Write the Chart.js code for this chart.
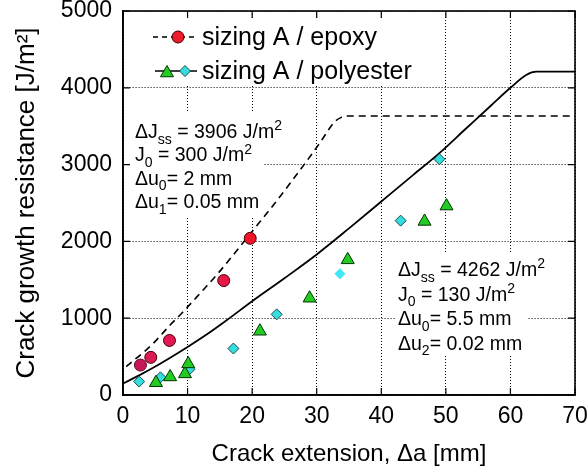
<!DOCTYPE html>
<html><head><meta charset="utf-8">
<script src="https://cdn.jsdelivr.net/npm/chart.js@4"></script>
<style>html,body{margin:0;padding:0;background:#fff;}canvas{display:block;}</style>
</head><body>
<canvas id="c" width="588" height="473"></canvas>
<script>
// ---- data ----
const epoxyModelX = [0.5, 1.1, 3.0, 4.7, 6.1, 7.3, 9.1, 12.0, 14.8, 18.0, 20.0, 23.3, 26.0, 28.2, 30.5, 32.8, 33.8, 34.6, 70];
const epoxyModelY = [370, 413, 543, 673, 800, 911, 1064, 1330, 1592, 1920, 2130, 2474, 2770, 3017, 3285, 3559, 3615, 3633, 3633];
const polyModelX = [0, 2.5, 5, 7.5, 10, 13, 16, 20, 25, 30, 35, 40, 45, 49, 53, 57, 60, 62.5, 64, 70];
const polyModelY = [150, 255, 370, 495, 625, 790, 970, 1220, 1520, 1830, 2170, 2520, 2870, 3150, 3460, 3770, 4000, 4170, 4210, 4210];
const epoxyX = [2.7, 4.3, 7.2, 15.6, 19.7];
const epoxyY = [390, 490, 710, 1490, 2040];
const polyTriX = [5.1, 7.3, 9.6, 10.1, 21.2, 28.9, 34.8, 46.7, 50.1];
const polyTriY = [160, 235, 275, 405, 830, 1260, 1760, 2260, 2460];
const polyDiaX = [2.5, 5.8, 10.3, 17.1, 23.8, 33.6, 43.0, 49.0];
const polyDiaY = [175, 230, 335, 605, 1050, 1580, 2270, 3070];
const xTicks = [0, 10, 20, 30, 40, 50, 60, 70];
const yTicks = [0, 1000, 2000, 3000, 4000, 5000];
const legendLabels = ['sizing A / epoxy', 'sizing A / polyester'];
const xTitle = 'Crack extension, \u0394a [mm]';
const yTitle = 'Crack growth resistance [J/m\u00B2]';
const noteEpoxy = [
  [{t:'\u0394J'},{t:'ss',sub:1},{t:' = 3906 J/m'},{t:'2',sup:1}],
  [{t:'J'},{t:'0',sub:1},{t:' = 300 J/m'},{t:'2',sup:1}],
  [{t:'\u0394u'},{t:'0',sub:1},{t:'= 2 mm'}],
  [{t:'\u0394u'},{t:'1',sub:1},{t:'= 0.05 mm'}]
];
const notePoly = [
  [{t:'\u0394J'},{t:'ss',sub:1},{t:' = 4262 J/m'},{t:'2',sup:1}],
  [{t:'J'},{t:'0',sub:1},{t:' = 130 J/m'},{t:'2',sup:1}],
  [{t:'\u0394u'},{t:'0',sub:1},{t:'= 5.5 mm'}],
  [{t:'\u0394u'},{t:'2',sub:1},{t:'= 0.02 mm'}]
];

const FONT = '"Liberation Sans", Arial, Helvetica, sans-serif';
const pts = (xs, ys) => xs.map((v, i) => ({x: v, y: ys[i]}));

function drawRich(ctx, x, y, parts, size) {
  let cx = x;
  ctx.textBaseline = 'alphabetic';
  ctx.textAlign = 'left';
  ctx.fillStyle = '#000';
  parts.forEach(p => {
    let fs = size, dy = 0;
    if (p.sub) { fs = size * 0.72; dy = size * 0.3; }
    if (p.sup) { fs = size * 0.72; dy = -size * 0.4; }
    ctx.font = fs + 'px ' + FONT;
    ctx.fillText(p.t, cx, y + dy);
    cx += ctx.measureText(p.t).width;
  });
}

function marker(ctx, style, x, y, r, fill, stroke) {
  ctx.save();
  ctx.fillStyle = fill; ctx.strokeStyle = stroke; ctx.lineWidth = 1;
  ctx.beginPath();
  if (style === 'circle') ctx.arc(x, y, r, 0, Math.PI * 2);
  else if (style === 'triangle') {
    for (let k = 0; k < 3; k++) {
      const a = k * 2 * Math.PI / 3;
      const px = x + Math.sin(a) * r, py = y - Math.cos(a) * r;
      k ? ctx.lineTo(px, py) : ctx.moveTo(px, py);
    }
    ctx.closePath();
  } else {
    ctx.moveTo(x, y - r); ctx.lineTo(x + r, y); ctx.lineTo(x, y + r); ctx.lineTo(x - r, y); ctx.closePath();
  }
  ctx.fill(); ctx.stroke();
  ctx.restore();
}

const decor = {
  id: 'decor',
  beforeDatasetsDraw(chart) {
    const {ctx, chartArea: a} = chart;
    ctx.save();
    ctx.fillStyle = '#fff';
    // legend box
    ctx.fillRect(a.left + 1, a.top + 7, 302, 68);
    // note boxes
    ctx.fillRect(a.left + 1, a.top + 102, 140, 105);
    ctx.fillRect(a.left + 273, a.top + 241, 131, 102);
    // legend
    ctx.strokeStyle = '#000'; ctx.lineWidth = 1.3;
    ctx.setLineDash([5, 4]);
    ctx.beginPath(); ctx.moveTo(a.left + 30, a.top + 26); ctx.lineTo(a.left + 74, a.top + 26); ctx.stroke();
    ctx.setLineDash([]);
    ctx.beginPath(); ctx.moveTo(a.left + 32, a.top + 60); ctx.lineTo(a.left + 74, a.top + 60); ctx.stroke();
    marker(ctx, 'circle', a.left + 55, a.top + 26, 6, '#ee1c2a', '#300');
    marker(ctx, 'triangle', a.left + 44, a.top + 62, 7.5, '#22cc22', '#003300');
    marker(ctx, 'diamond', a.left + 62, a.top + 60, 5.5, '#33dde0', '#1a4a4a');
    ctx.fillStyle = '#000';
    ctx.font = '25px ' + FONT;
    ctx.textBaseline = 'middle'; ctx.textAlign = 'left';
    ctx.fillText(legendLabels[0], a.left + 79, a.top + 27);
    ctx.fillText(legendLabels[1], a.left + 79, a.top + 61);
    // notes
    noteEpoxy.forEach((ln, i) => drawRich(ctx, a.left + 12, a.top + 127 + i * 23.3, ln, 19.5));
    notePoly.forEach((ln, i) => drawRich(ctx, a.left + 275, a.top + 265 + i * 24.5, ln, 19.5));
    ctx.restore();
  },
  afterDraw(chart) {
    const {ctx, chartArea: a, scales: {x, y}} = chart;
    ctx.save();
    ctx.strokeStyle = '#000';
    ctx.lineWidth = 1.2;
    const L = 7;
    ctx.beginPath();
    x.ticks.forEach(t => {
      const px = x.getPixelForValue(t.value);
      ctx.moveTo(px, a.bottom); ctx.lineTo(px, a.bottom - L);
      ctx.moveTo(px, a.top); ctx.lineTo(px, a.top + L);
    });
    y.ticks.forEach(t => {
      const py = y.getPixelForValue(t.value);
      ctx.moveTo(a.left, py); ctx.lineTo(a.left + L, py);
      ctx.moveTo(a.right, py); ctx.lineTo(a.right - L, py);
    });
    ctx.stroke();
    ctx.lineWidth = 1.6;
    ctx.strokeRect(a.left, a.top, a.right - a.left, a.bottom - a.top);
    ctx.restore();
  }
};

Chart.defaults.font.family = FONT;
Chart.defaults.color = '#000';

new Chart(document.getElementById('c'), {
  type: 'scatter',
  data: {
    datasets: [
      { label: legendLabels[0], data: pts(epoxyX, epoxyY), order: 1,
        pointStyle: 'circle', pointRadius: 6, pointBorderWidth: 1,
        pointBackgroundColor: ['#c4185a', '#dc1a55', '#e41852', '#e8174a', '#f01428'],
        pointBorderColor: ['#5a0a20', '#400', '#400', '#400', '#400'] },
      { label: 'triangles', data: pts(polyTriX, polyTriY), order: 2,
        pointStyle: 'triangle', pointRadius: 7.5, pointBorderWidth: 1,
        pointBackgroundColor: '#22cc22', pointBorderColor: '#003300' },
      { label: 'diamonds', data: pts(polyDiaX, polyDiaY), order: 3,
        pointStyle: 'rectRot', pointRadius: 5.5,
        pointBorderWidth: [1, 1, 1, 1, 1, 0, 1, 1],
        pointBackgroundColor: ['#33dde0', '#33dde0', '#33dde0', '#33dde0', '#33dde0', '#3ee8f5', '#33dde0', '#33dde0'],
        pointBorderColor: '#1a4a4a' },
      { label: 'epoxy model', data: pts(epoxyModelX, epoxyModelY), order: 4,
        showLine: true, pointRadius: 0, borderColor: '#000', borderWidth: 1.6,
        borderDash: [7, 5], cubicInterpolationMode: 'monotone', fill: false },
      { label: 'polyester model', data: pts(polyModelX, polyModelY), order: 5,
        showLine: true, pointRadius: 0, borderColor: '#000', borderWidth: 1.8,
        cubicInterpolationMode: 'monotone', fill: false }
    ]
  },
  options: {
    responsive: false,
    animation: false,
    events: [],
    devicePixelRatio: 1,
    layout: { padding: { left: 0, top: 11, right: 13, bottom: 0 } },
    plugins: { legend: { display: false }, tooltip: { enabled: false } },
    scales: {
      x: {
        type: 'linear', min: 0, max: 70,
        afterBuildTicks: s => { s.ticks = xTicks.map(v => ({value: v})); },
        afterFit: s => { s.height = 78; s.paddingLeft = 0; s.paddingRight = 0; },
        ticks: { font: { size: 23 }, color: '#000', padding: 8, maxRotation: 0, callback: v => String(v) },
        grid: { color: '#000', lineWidth: 1, drawTicks: false },
        border: { display: true, color: '#000', width: 1.6, dash: [1, 2] },
        title: { display: true, text: xTitle, font: { size: 24 }, color: '#000', padding: { top: 0, bottom: 4 } }
      },
      y: {
        type: 'linear', min: 0, max: 5000,
        afterBuildTicks: s => { s.ticks = yTicks.map(v => ({value: v})); },
        afterFit: s => { s.width = 123; s.paddingTop = 0; s.paddingBottom = 0; },
        ticks: { font: { size: 23 }, color: '#000', padding: 11, callback: v => String(v) },
        grid: { color: '#000', lineWidth: 1, drawTicks: false },
        border: { display: true, color: '#000', width: 1.6, dash: [1, 2] },
        title: { display: true, text: yTitle, font: { size: 26 }, color: '#000', padding: { top: 11, bottom: 0 } }
      }
    }
  },
  plugins: [decor]
});
</script>
</body></html>
